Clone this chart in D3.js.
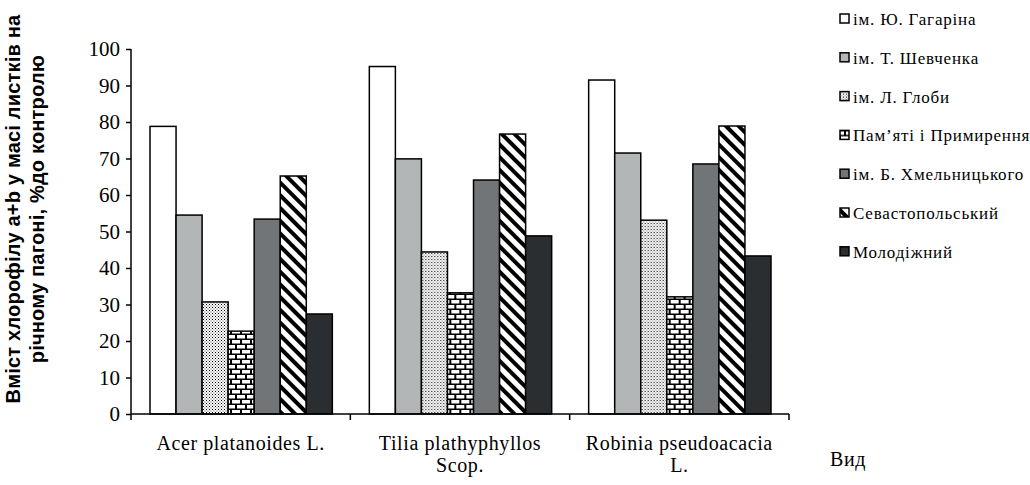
<!DOCTYPE html>
<html>
<head>
<meta charset="utf-8">
<script src="https://cdn.jsdelivr.net/npm/d3@7"></script>
<style>
  body { margin: 0; background: #fff; }
  svg { display: block; font-family: "Liberation Serif", "Times New Roman", serif; }
</style>
</head>
<body>
<svg width="1030" height="485"></svg>
<script>
// species (x categories), two-line labels
var species = ["Acer platanoides L.", "Tilia plathyphyllos Scop.", "Robinia pseudoacacia L."];
var speciesLines = [["Acer platanoides L."], ["Tilia plathyphyllos", "Scop."], ["Robinia pseudoacacia", "L."]];

// parks (series)
var parks = ["ім. Ю. Гагаріна", "ім. Т. Шевченка", "ім. Л. Глоби", "Пам\u2019яті і Примирення",
             "ім. Б. Хмельницького", "Севастопольський", "Молодіжний"];

// values per park, in species order
var gagarina   = [78.8, 95.2, 91.5];
var shevchenka = [54.5, 69.9, 71.5];
var globy      = [30.7, 44.4, 53.1];
var prymyr     = [22.7, 33.2, 32.1];
var khmeln     = [53.4, 64.1, 68.5];
var sevast     = [65.2, 76.7, 78.9];
var molod      = [27.4, 48.8, 43.3];
var seriesValues = [gagarina, shevchenka, globy, prymyr, khmeln, sevast, molod];

var yTicks = [0, 10, 20, 30, 40, 50, 60, 70, 80, 90, 100];

var serif = "'Liberation Serif', 'Times New Roman', serif";

var svg = d3.select("svg");
var defs = svg.append("defs");

// dotted pattern
var pDots = defs.append("pattern").attr("id", "dots")
    .attr("patternUnits", "userSpaceOnUse").attr("width", 3).attr("height", 3);
pDots.append("rect").attr("width", 3).attr("height", 3).attr("fill", "#fff");
pDots.append("rect").attr("x", 0).attr("y", 0).attr("width", 1).attr("height", 1).attr("fill", "#000");
pDots.append("rect").attr("x", 1.5).attr("y", 1.5).attr("width", 1).attr("height", 1).attr("fill", "#444");

// brick pattern: white bricks, black mortar
var pBrick = defs.append("pattern").attr("id", "brick")
    .attr("patternUnits", "userSpaceOnUse").attr("width", 10).attr("height", 10);
pBrick.append("rect").attr("width", 10).attr("height", 10).attr("fill", "#000");
pBrick.append("rect").attr("x", 1).attr("y", 1).attr("width", 8).attr("height", 3.5).attr("fill", "#fff");
pBrick.append("rect").attr("x", -4).attr("y", 6).attr("width", 8).attr("height", 3.5).attr("fill", "#fff");
pBrick.append("rect").attr("x", 6).attr("y", 6).attr("width", 8).attr("height", 3.5).attr("fill", "#fff");

// wide downward diagonal stripes (top-left to bottom-right)
var pStripe = defs.append("pattern").attr("id", "stripe")
    .attr("patternUnits", "userSpaceOnUse").attr("width", 9).attr("height", 9)
    .attr("patternTransform", "rotate(-45)");
pStripe.append("rect").attr("width", 9).attr("height", 9).attr("fill", "#fff");
pStripe.append("rect").attr("x", 0).attr("y", 0).attr("width", 4).attr("height", 9).attr("fill", "#000");

var fills = ["#ffffff", "#b3b6b6", "url(#dots)", "url(#brick)", "#717577", "url(#stripe)", "#2b2e31"];

var margin = {left: 131, top: 49, right: 241, bottom: 71};
var width = 1030 - margin.left - margin.right,
    height = 485 - margin.top - margin.bottom;

var x0 = d3.scaleBand().domain(species).range([0, width]).paddingInner(0).paddingOuter(0);
var x1 = d3.scaleBand().domain(parks).range([19, x0.bandwidth() - 18]).padding(0);
var y = d3.scaleLinear().domain([0, 100]).range([height, 0]);

var g = svg.append("g").attr("transform", "translate(" + margin.left + "," + margin.top + ")");

// bars
var groups = g.selectAll(".grp").data(species).enter().append("g")
    .attr("transform", function(d) { return "translate(" + x0(d) + ",0)"; });

groups.selectAll("rect")
    .data(function(d, i) { return parks.map(function(p, j) { return {park: p, j: j, v: seriesValues[j][i]}; }); })
    .enter().append("rect")
    .attr("x", function(d) { return x1(d.park); })
    .attr("y", function(d) { return y(d.v); })
    .attr("width", x1.bandwidth())
    .attr("height", function(d) { return height - y(d.v); })
    .attr("fill", function(d) { return fills[d.j]; })
    .attr("stroke", "#000")
    .attr("stroke-width", 1.5);

// y axis
var yAxis = g.append("g")
    .call(d3.axisLeft(y).tickValues(yTicks).tickSize(5).tickPadding(6));
yAxis.attr("font-family", serif).attr("font-size", 21);
yAxis.select(".domain").attr("stroke-width", 1.5).attr("d", "M0," + height + "V0");
yAxis.selectAll(".tick line").attr("stroke-width", 1.5);
yAxis.selectAll("text").attr("fill", "#000");

// x axis: tick marks at category boundaries
var xAxis = g.append("g").attr("transform", "translate(0," + height + ")");
xAxis.append("line").attr("x1", 0).attr("x2", width).attr("stroke", "#000").attr("stroke-width", 1.5);
xAxis.selectAll(".bt").data(species.concat(["end"])).enter().append("line")
    .attr("x1", function(d, i) { return i < species.length ? x0(d) : width; })
    .attr("x2", function(d, i) { return i < species.length ? x0(d) : width; })
    .attr("y1", 0).attr("y2", 6)
    .attr("stroke", "#000").attr("stroke-width", 1.5);

var lab = xAxis.selectAll(".lab").data(species).enter().append("text")
    .attr("text-anchor", "middle")
    .attr("transform", function(d) { return "translate(" + (x0(d) + x0.bandwidth() / 2) + ",0)"; })
    .attr("font-family", serif).attr("font-size", 20).attr("letter-spacing", 0.6);
lab.each(function(d, i) {
  var t = d3.select(this);
  speciesLines[i].forEach(function(line, k) {
    t.append("tspan").attr("x", 0).attr("y", 36 + k * 22).text(line);
  });
});

// "Вид" axis name
svg.append("text").attr("x", 830).attr("y", 466)
    .attr("font-family", serif).attr("font-size", 20).attr("letter-spacing", 0.6).text("Вид");

// y axis title
var yt = svg.append("text")
    .attr("transform", "translate(0,209) rotate(-90)")
    .attr("text-anchor", "middle")
    .attr("font-family", "'Liberation Sans', Arial, sans-serif")
    .attr("font-weight", "bold").attr("font-size", 20).attr("letter-spacing", 0.2);
yt.append("tspan").attr("x", 0).attr("y", 20).text("Вміст хлорофілу  а+b у масі листків на");
yt.append("tspan").attr("x", 0).attr("y", 44).text("річному пагоні, %до контролю");

// legend
var legend = svg.append("g").attr("transform", "translate(840,19)");
var li = legend.selectAll(".li").data(parks).enter().append("g")
    .attr("transform", function(d, i) { return "translate(0," + (i * 38.8) + ")"; });
li.append("rect").attr("x", 0).attr("y", -5).attr("width", 9).attr("height", 9)
    .attr("fill", function(d, i) { return fills[i]; })
    .attr("stroke", "#000").attr("stroke-width", 1.5);
li.append("text").attr("x", 13).attr("y", 6)
    .attr("font-family", serif).attr("font-size", 17).attr("letter-spacing", 0.8)
    .text(function(d) { return d; });
</script>
</body>
</html>
